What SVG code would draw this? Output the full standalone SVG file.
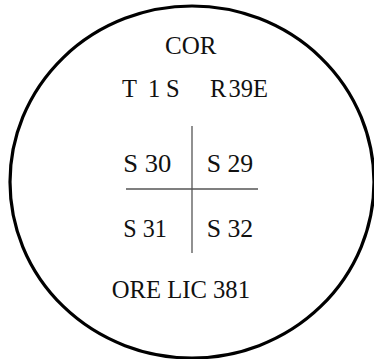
<svg xmlns="http://www.w3.org/2000/svg" width="374" height="359" viewBox="0 0 374 359">
<style>
.t{font-family:"Liberation Serif","Times New Roman",serif;font-size:24.5px;fill:#111}
.b{fill:none;stroke:#000;stroke-width:3.2}
.x{stroke:#555;stroke-width:1.3}
</style>
<rect width="374" height="359" fill="#fff"/>
<g id="boundary"><ellipse class="b" cx="192" cy="182" rx="182" ry="176"/></g>
<g id="connectors">
<line class="x" x1="192" y1="126" x2="192" y2="253"/>
<line class="x" x1="126" y1="189" x2="258" y2="189"/>
</g>
<g id="cor"><text class="t" x="165" y="53.5" textLength="51.5" lengthAdjust="spacingAndGlyphs">COR</text></g>
<g id="twp"><text class="t" y="96.5"><tspan x="122">T</tspan> <tspan x="148">1</tspan> <tspan x="166">S</tspan></text></g>
<g id="rng"><text class="t" y="96.5"><tspan x="210">R</tspan> <tspan x="228.5">39</tspan> <tspan x="253">E</tspan></text></g>
<g id="s30"><text class="t" x="123.3" y="171.5" textLength="48" lengthAdjust="spacingAndGlyphs">S 30</text></g>
<g id="s29"><text class="t" x="206.7" y="171.5" textLength="46.5" lengthAdjust="spacingAndGlyphs">S 29</text></g>
<g id="s31"><text class="t" x="123.3" y="236.5" textLength="43.5" lengthAdjust="spacingAndGlyphs">S 31</text></g>
<g id="s32"><text class="t" x="206.7" y="236.5" textLength="46.5" lengthAdjust="spacingAndGlyphs">S 32</text></g>
<g id="ore"><text class="t" x="111.7" y="298.3" textLength="138.3" lengthAdjust="spacingAndGlyphs">ORE LIC 381</text></g>
</svg>
